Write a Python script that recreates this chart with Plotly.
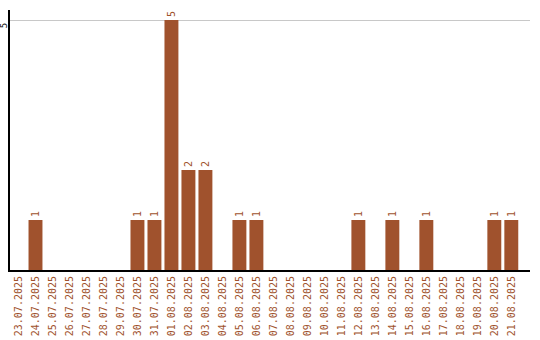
import plotly.graph_objects as go

dates = ["23.07.2025","24.07.2025","25.07.2025","26.07.2025","27.07.2025","28.07.2025",
         "29.07.2025","30.07.2025","31.07.2025","01.08.2025","02.08.2025","03.08.2025",
         "04.08.2025","05.08.2025","06.08.2025","07.08.2025","08.08.2025","09.08.2025",
         "10.08.2025","11.08.2025","12.08.2025","13.08.2025","14.08.2025","15.08.2025",
         "16.08.2025","17.08.2025","18.08.2025","19.08.2025","20.08.2025","21.08.2025"]
counts = [0,1,0,0,0,0,0,1,1,5,2,2,0,1,1,0,0,0,0,0,1,0,1,0,1,0,0,0,1,1]

labels = [str(v) if v else "" for v in counts]
brown = "#A0522D"
mono = "DejaVu Sans Mono"

fig = go.Figure(go.Bar(
    x=dates, y=counts, text=labels, textposition="outside", textangle=-90,
    textfont=dict(family=mono, size=10, color=brown),
    marker=dict(color=brown, line=dict(width=0)),
    cliponaxis=False,
))
fig.update_layout(
    width=540, height=340, margin=dict(l=10, r=10, t=10, b=70),
    plot_bgcolor="white", paper_bgcolor="white", bargap=0.18,
    showlegend=False,
)
fig.update_xaxes(
    type="category", range=[-0.5, 30.1], tickangle=-90, automargin=False,
    tickfont=dict(family=mono, size=10, color=brown),
    showline=True, linecolor="black", linewidth=2, showgrid=False, ticks="",
)
fig.update_yaxes(
    range=[0, 5.2], tickvals=[5], ticktext=["5"], tickangle=-90, automargin=False,
    ticklabelstandoff=-3, ticklabelshift=7,
    tickfont=dict(family=mono, size=9, color="black"),
    showline=True, linecolor="black", linewidth=2,
    showgrid=True, gridcolor="#c8c8c8", gridwidth=1, zeroline=False, ticks="",
)
fig.write_html("out.html")
